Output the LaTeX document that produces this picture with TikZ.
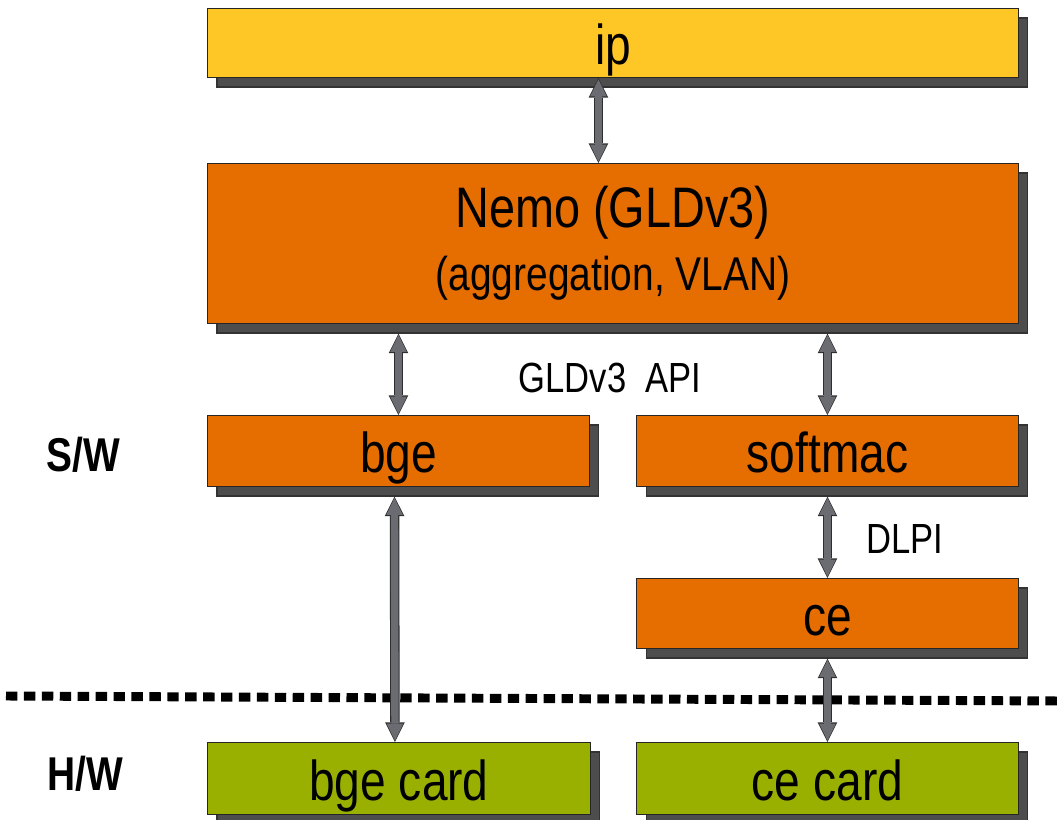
\documentclass[tikz,border=0pt]{standalone}
\usepackage{fontspec}
\setmainfont{Liberation Sans}[FakeStretch=0.82]
\usetikzlibrary{arrows.meta,positioning,shadows}

\definecolor{ipyellow}{HTML}{FFC726}
\definecolor{sworange}{HTML}{E66E00}
\definecolor{hwgreen}{HTML}{99B000}
\definecolor{shadowgray}{HTML}{4D4D4D}
\definecolor{arrowgray}{HTML}{6B6C72}
\definecolor{arrowedge}{HTML}{2E2E2E}

\begin{document}
\begin{tikzpicture}[x=0.02cm, y=-0.02cm, line join=miter,
  layer/.style={draw=black!85, line width=0.6pt, anchor=north west, inner sep=0pt,
    font=\fontsize{32}{36}\selectfont,
    drop shadow={shadow xshift=0.19cm, shadow yshift=-0.19cm, fill=shadowgray,
      draw=black!80, opacity=1}},
  onelayer/.style={layer, text height=0.86cm, text depth=0cm},
  link/.style={draw=arrowedge, line width=5.4pt,
    {Triangle[length=11.2pt,width=11.2pt,line width=0pt]}-{Triangle[length=11.2pt,width=11.2pt,line width=0pt]},
    postaction={draw=arrowgray, line width=4.2pt, shorten <=0.8pt, shorten >=0.8pt,
      {Triangle[length=9.6pt,width=9.4pt,line width=0pt]}-{Triangle[length=9.6pt,width=9.4pt,line width=0pt]}}},
  label/.style={font=\fontsize{24}{28}\selectfont},
  side/.style={font=\fontsize{27}{30}\selectfont\bfseries}]
  \useasboundingbox (0,0) rectangle (1059,820);

  % software layers
  \node[onelayer, fill=ipyellow, minimum width=16.22cm, minimum height=1.38cm] (ip) at (207,8) {ip};
  \node[layer, fill=sworange, minimum width=16.22cm, minimum height=3.2cm, align=center] (nemo) at (207,163)
    {\fontsize{32.5}{36}\selectfont Nemo (GLDv3)\\\fontsize{27}{36}\selectfont (aggregation, VLAN)};
  \node[onelayer, fill=sworange, minimum width=7.64cm, minimum height=1.42cm] (bge) at (207,415) {bge};
  \node[onelayer, fill=sworange, minimum width=7.64cm, minimum height=1.42cm] (softmac) at (636,415) {softmac};
  \node[onelayer, fill=sworange, minimum width=7.64cm, minimum height=1.4cm] (ce) at (636,578) {ce};

  % hardware layers
  \node[onelayer, fill=hwgreen, minimum width=7.66cm, minimum height=1.44cm] (bgecard) at (207,742) {bge card};
  \node[onelayer, fill=hwgreen, minimum width=7.64cm, minimum height=1.44cm] (cecard) at (636,742) {ce card};

  % labels
  \node[label] (api) at (610,378) {GLDv3~ API};
  \node[label] (dlpi) at (905,539) {DLPI};
  \node[side] (sw) at (83,455) {S/W};
  \node[side] (hw) at (85,774) {H/W};

  % S/W -- H/W boundary
  \draw[line width=5.1pt, dash pattern=on 6.5pt off 3.7pt] (6,696) -- (1059,701);

  % connectors
  \draw[link] ([xshift=-0.29cm]ip.south) -- ([xshift=-0.29cm]nemo.north);
  \draw[link] ([yshift=-0.19cm]bge.north |- nemo.south) -- (bge.north);
  \draw[link] ([yshift=-0.19cm]softmac.north |- nemo.south) -- (softmac.north);
  \draw[link] ([xshift=-0.08cm,yshift=-0.19cm]bge.south) -- ([xshift=-0.08cm]bgecard.north);
  \draw[link] ([yshift=-0.19cm]softmac.south) -- (ce.north);
  \draw[link] ([yshift=-0.19cm]ce.south) -- (cecard.north);
\end{tikzpicture}
\end{document}
